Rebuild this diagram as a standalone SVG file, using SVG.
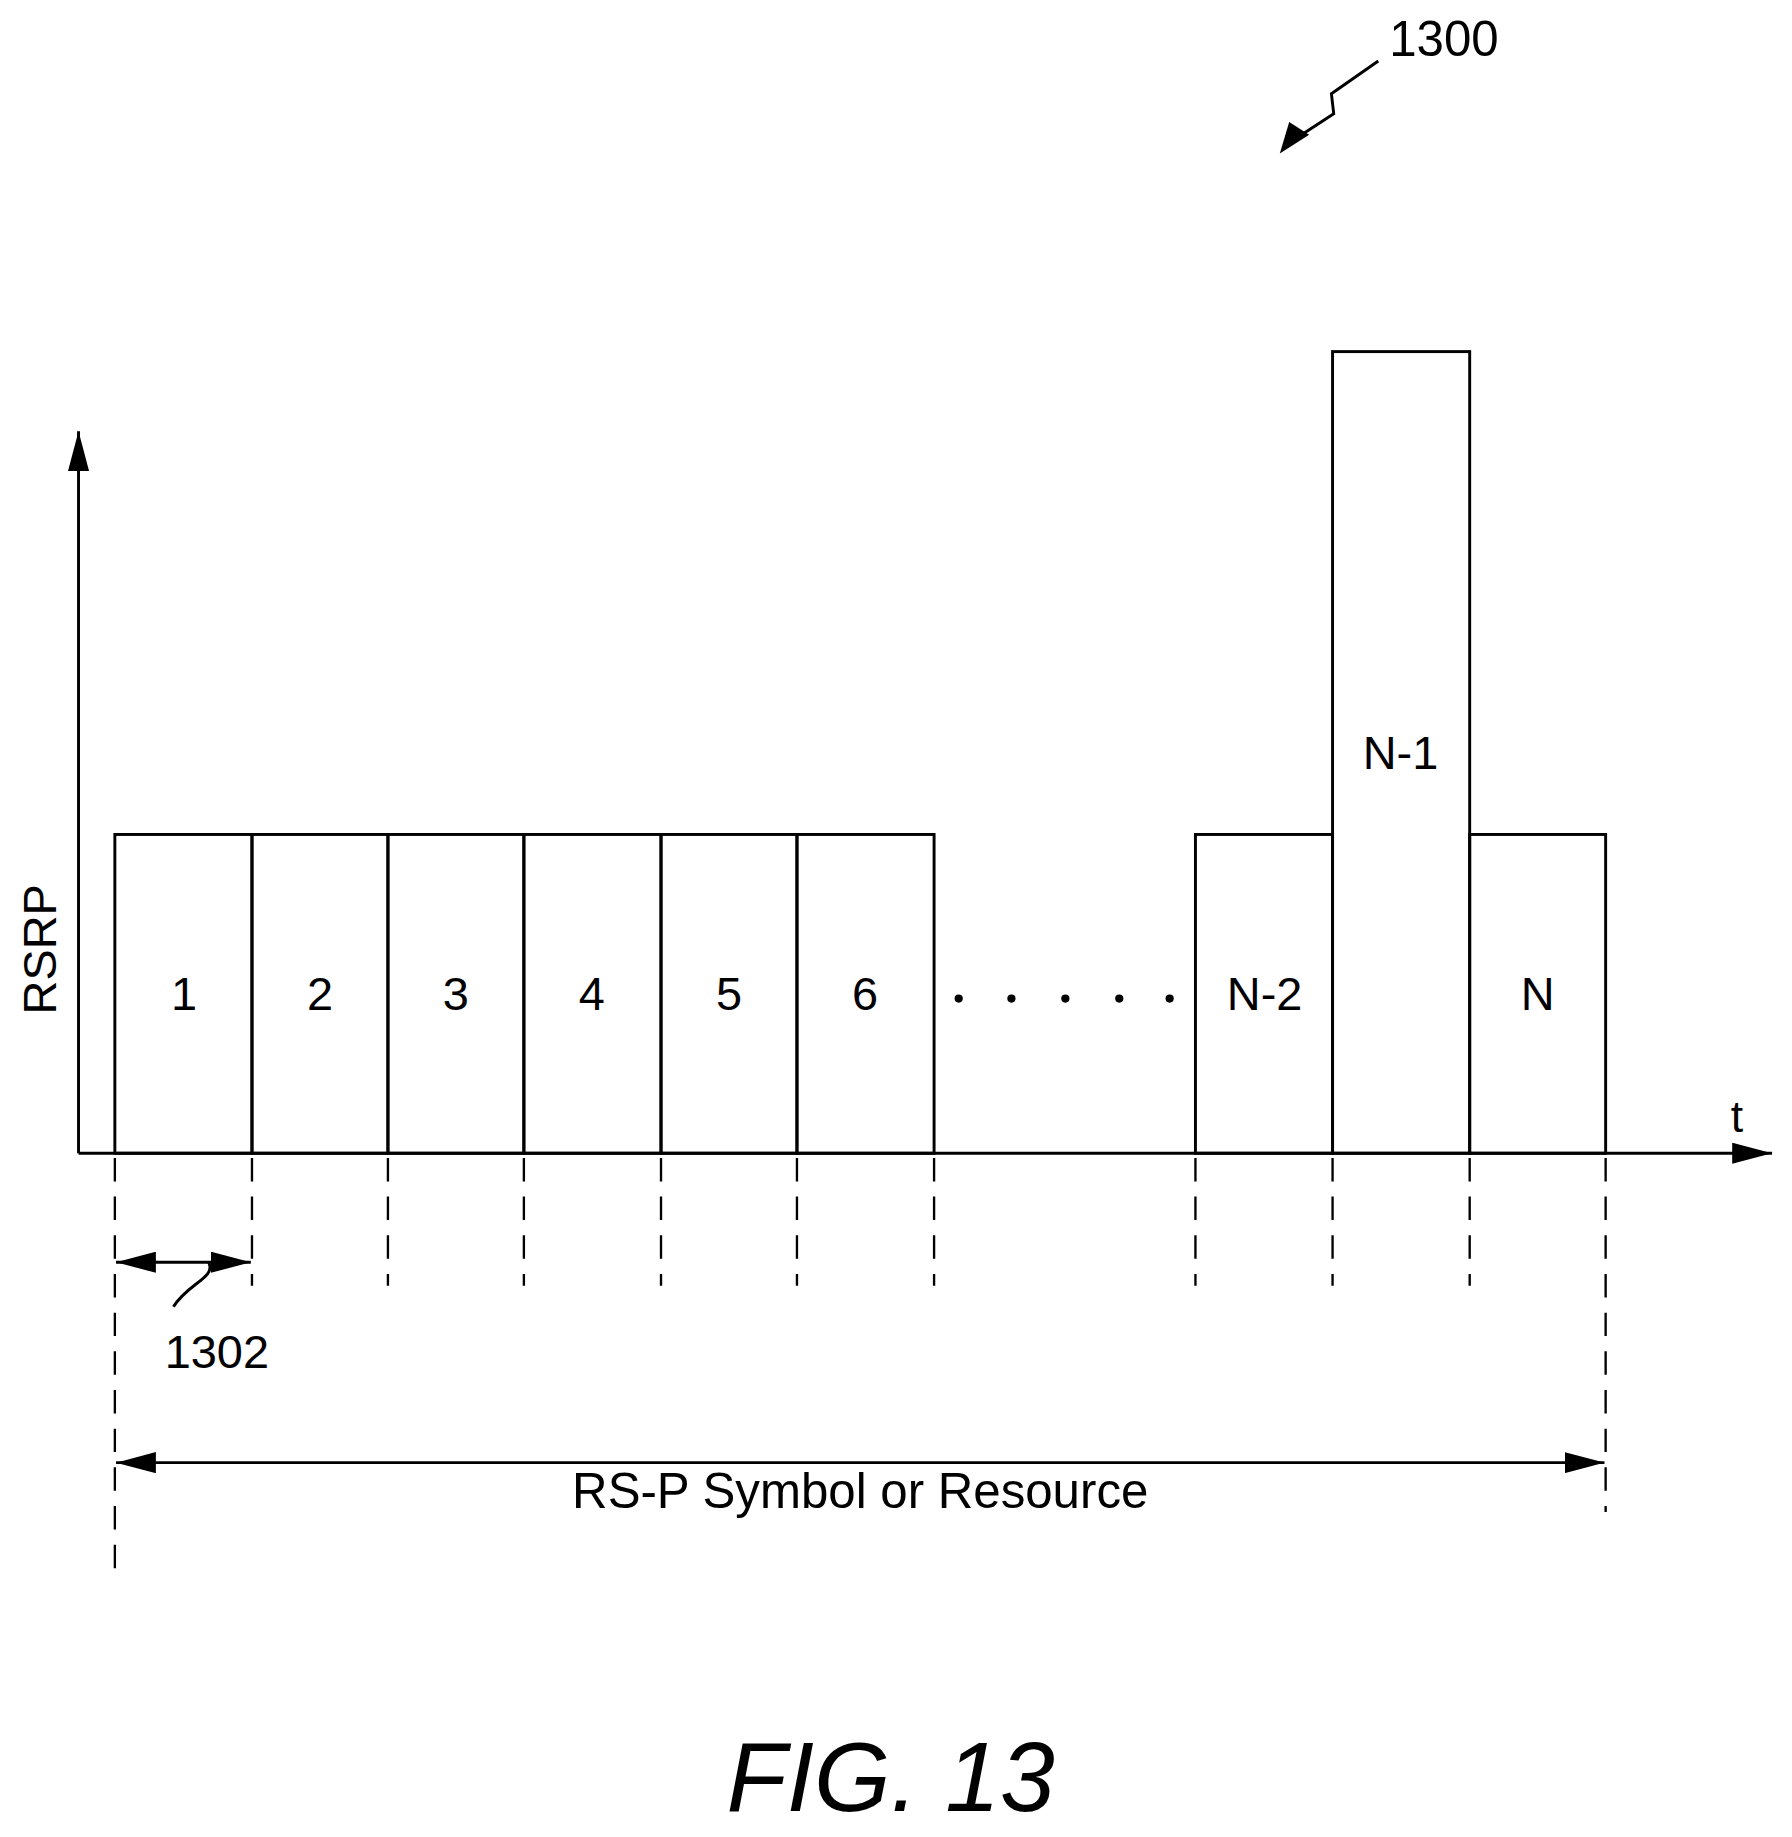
<svg xmlns="http://www.w3.org/2000/svg" width="1792" height="1837" viewBox="0 0 1792 1837">
<defs>
<marker id="ahb" viewBox="0 0 10 10" refX="10" refY="5" markerWidth="34" markerHeight="18" markerUnits="userSpaceOnUse" orient="auto-start-reverse" preserveAspectRatio="none"><path d="M0,0 L10,5 L0,10 z" fill="#000"/></marker>
</defs>
<style>
text{font-family:"Liberation Sans",Arial,sans-serif;fill:#000}
.bar{fill:none;stroke:#000;stroke-width:2.5}
.ln{fill:none;stroke:#000;stroke-width:2.5}
.d{fill:none;stroke:#000;stroke-width:2;stroke-dasharray:20,13}
.lbl{font-size:40px;text-anchor:middle}
</style>
<rect width="1792" height="1837" fill="#fff"/>
<g transform="scale(1.172)">
<g id="axes">
<path class="ln" d="M67,984 V368" marker-end="url(#ahb)"/>
<path class="ln" d="M67,984 H1512" marker-end="url(#ahb)"/>
<text x="48" y="810" font-size="40" text-anchor="middle" transform="rotate(-90 48 810)">RSRP</text>
<text x="1482" y="966" font-size="38" text-anchor="middle">t</text>
</g>
<g id="bar1"><rect class="bar" x="98" y="712" width="117" height="272"/><text class="lbl" x="157" y="862">1</text></g>
<g id="bar2"><rect class="bar" x="215" y="712" width="116" height="272"/><text class="lbl" x="273" y="862">2</text></g>
<g id="bar3"><rect class="bar" x="331" y="712" width="116" height="272"/><text class="lbl" x="389" y="862">3</text></g>
<g id="bar4"><rect class="bar" x="447" y="712" width="117" height="272"/><text class="lbl" x="505" y="862">4</text></g>
<g id="bar5"><rect class="bar" x="564" y="712" width="116" height="272"/><text class="lbl" x="622" y="862">5</text></g>
<g id="bar6"><rect class="bar" x="680" y="712" width="117" height="272"/><text class="lbl" x="738" y="862">6</text></g>
<g id="dots" fill="#000"><circle cx="818" cy="852" r="3.5"/><circle cx="863" cy="852" r="3.5"/><circle cx="909" cy="852" r="3.5"/><circle cx="955" cy="852" r="3.5"/><circle cx="998" cy="852" r="3.5"/></g>
<g id="barN2"><rect class="bar" x="1020" y="712" width="117" height="272"/><text class="lbl" x="1079" y="862">N-2</text></g>
<g id="barN1"><rect class="bar" x="1137" y="300" width="117" height="684"/><text class="lbl" x="1195" y="656">N-1</text></g>
<g id="barN"><rect class="bar" x="1254" y="712" width="116" height="272"/><text class="lbl" x="1312" y="862">N</text></g>
<g id="connectors">
<path class="d" d="M98,988 V1347"/>
<path class="d" d="M215,988 V1097"/>
<path class="d" d="M331,988 V1097"/>
<path class="d" d="M447,988 V1097"/>
<path class="d" d="M564,988 V1097"/>
<path class="d" d="M680,988 V1097"/>
<path class="d" d="M797,988 V1097"/>
<path class="d" d="M1020,988 V1097"/>
<path class="d" d="M1137,988 V1097"/>
<path class="d" d="M1254,988 V1097"/>
<path class="d" d="M1370,988 V1290"/>
<path class="ln" d="M99,1077 H214" marker-start="url(#ahb)" marker-end="url(#ahb)"/>
<path class="ln" d="M99,1248 H1369" marker-start="url(#ahb)" marker-end="url(#ahb)"/>
<path class="ln" d="M178,1077 C185,1090 160,1095 148,1115"/>
<path class="ln" d="M1176,52 L1136,80 L1138,97 L1106,118"/>
<path d="M1092,131 L1100,104 L1117,115 z" fill="#000"/>
</g>
<text x="185" y="1167" font-size="40" text-anchor="middle">1302</text>
<text x="734" y="1287" font-size="42" text-anchor="middle">RS-P Symbol or Resource</text>
<text x="1232" y="48" font-size="42" text-anchor="middle">1300</text>
<text x="760" y="1545" font-size="84" font-style="italic" text-anchor="middle">FIG. 13</text>
</g>
</svg>
